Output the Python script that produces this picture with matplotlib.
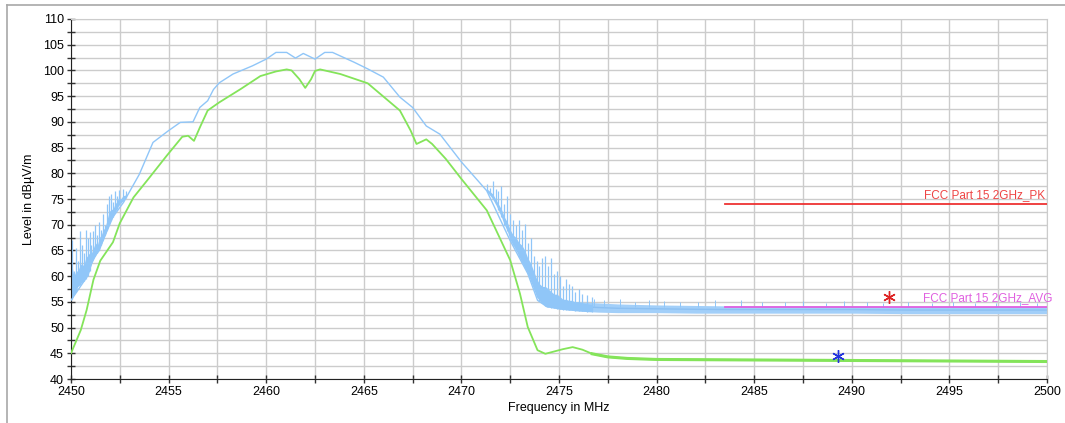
import numpy as np
import matplotlib.pyplot as plt
from matplotlib.lines import Line2D

plt.rcParams['font.family'] = ['Liberation Sans', 'DejaVu Sans']

# Peak trace (lower edge of the blue trace)
pk_f = [2450.0, 2450.7, 2451.1, 2451.6, 2452.15, 2452.7, 2453.5, 2454.2, 2455.0, 2455.6,
        2456.25, 2456.6, 2457.0, 2457.3, 2457.6, 2458.3, 2459.3, 2460.0, 2460.5, 2461.05,
        2461.5, 2461.9, 2462.5, 2463.0, 2463.4, 2464.5, 2465.2, 2466.0, 2466.85, 2467.5,
        2468.2, 2468.9, 2470.0, 2471.3, 2472.5, 2473.4, 2473.9, 2474.4]
pk_v = [55.3, 59.2, 62.8, 66.6, 71.5, 74.4, 79.8, 86.0, 88.3, 89.9,
        90.0, 92.8, 94.1, 96.3, 97.6, 99.3, 100.9, 102.2, 103.5, 103.5,
        102.4, 103.3, 102.2, 103.5, 103.5, 101.6, 100.3, 98.7, 94.8, 92.8,
        89.2, 87.6, 82.2, 76.6, 66.9, 60.5, 55.3, 54.0]

# Peak trace spikes at the band edges (x, bottom, top)
sp_f = [2450.05, 2450.15, 2450.25, 2450.35, 2450.45, 2450.55, 2450.65, 2450.75, 2450.85, 2450.95,
        2451.05, 2451.15, 2451.25, 2451.35, 2451.45, 2451.55, 2451.65, 2451.75, 2451.85, 2451.95,
        2452.05, 2452.15, 2452.25, 2452.35, 2452.45, 2452.55, 2452.65, 2452.8,
        2471.3, 2471.45, 2471.6, 2471.75, 2471.9, 2472.05, 2472.2, 2472.35, 2472.5, 2472.65,
        2472.8, 2472.95, 2473.1, 2473.25, 2473.4, 2473.55, 2473.7, 2473.85, 2474.0, 2474.15,
        2474.3, 2474.45, 2474.6, 2474.75, 2474.9, 2475.05, 2475.2, 2475.35, 2475.5, 2475.65,
        2475.8, 2476.0, 2476.2, 2476.45, 2476.7]
sp_lo = [55.5, 56.5, 57.0, 58.0, 58.3, 58.8, 59.0, 59.5, 60.0, 61.0,
         62.5, 63.5, 64.0, 64.5, 65.0, 66.0, 67.0, 68.0, 69.0, 70.0,
         71.0, 71.5, 72.5, 73.0, 73.8, 74.3, 74.6, 75.2,
         76.4, 75.8, 75.0, 74.0, 72.8, 71.5, 70.0, 68.8, 67.0, 66.0,
         65.0, 63.8, 62.6, 61.6, 60.5, 59.0, 57.5, 56.0, 55.2, 54.7,
         54.2, 54.0, 53.9, 53.8, 53.7, 53.6, 53.5, 53.5, 53.4, 53.4,
         53.3, 53.3, 53.2, 53.1, 53.1]
sp_hi = [67.0, 61.0, 65.5, 63.0, 68.8, 66.0, 64.5, 69.0, 67.5, 68.5,
         66.0, 68.8, 70.0, 68.0, 70.5, 69.0, 72.0, 70.0, 74.0, 75.5,
         76.0, 74.5, 76.5, 75.5, 76.8, 75.0, 77.0, 76.5,
         78.0, 77.2, 78.5, 77.0, 76.5, 77.5, 74.0, 75.5, 72.0, 71.0,
         70.0, 71.0, 69.0, 70.2, 66.5, 67.5, 64.0, 63.0, 62.0, 63.5,
         64.0, 62.0, 63.5, 60.5, 61.0, 60.0, 58.0, 59.5, 58.5, 58.0,
         57.0, 57.5, 56.5, 56.3, 56.0]
# where the dense part of the spikes reaches
sp_mid = [62.0, 60.0, 61.0, 61.0, 62.0, 62.5, 62.0, 63.5, 64.0, 64.5,
          64.5, 65.5, 66.5, 66.0, 67.5, 68.0, 69.0, 69.5, 71.0, 72.5,
          73.0, 73.0, 74.0, 74.5, 75.3, 75.0, 75.6, 75.8,
          77.0, 76.5, 76.0, 75.0, 74.0, 73.0, 71.5, 70.5, 69.0, 68.0,
          67.5, 66.5, 66.0, 65.0, 63.5, 62.5, 61.0, 59.5, 58.5, 58.0,
          58.0, 57.5, 57.0, 56.5, 56.5, 56.0, 55.5, 55.5, 55.3, 55.3,
          55.0, 55.0, 54.8, 54.6, 54.5]

# Peak noise floor band
fl_f = [2474.4, 2475.0, 2476.0, 2477.0, 2478.0, 2480.0, 2482.0, 2484.0, 2487.0, 2490.0, 2493.0, 2496.0, 2500.0]
fl_lo = [54.0, 53.6, 53.2, 53.0, 52.9, 52.9, 52.8, 52.8, 52.8, 52.8, 52.7, 52.7, 52.7]
fl_hi = [55.8, 55.4, 55.0, 54.8, 54.6, 54.4, 54.3, 54.2, 54.2, 54.2, 54.1, 54.1, 54.1]
fl_sp_f = [2476.8, 2477.3, 2478.1, 2478.9, 2479.6, 2480.4, 2481.2, 2482.1, 2483.0, 2484.3,
           2485.4, 2486.6, 2487.5, 2488.7, 2489.6, 2490.8, 2491.6, 2492.9, 2494.1, 2495.2,
           2496.3, 2497.4, 2498.6, 2499.5]
fl_sp_hi = [55.6, 55.3, 55.5, 55.0, 55.3, 55.1, 54.9, 55.0, 55.4, 55.3,
            54.9, 55.0, 55.1, 54.8, 55.2, 54.9, 54.8, 55.0, 54.7, 54.9,
            54.8, 54.7, 54.9, 54.7]

# Average trace
av_f = [2450.0, 2450.5, 2450.8, 2451.15, 2451.5, 2452.15, 2452.5, 2453.2, 2453.9, 2454.9,
        2455.7, 2456.0, 2456.3, 2456.6, 2457.0, 2457.6, 2458.7, 2459.7, 2460.5, 2461.05,
        2461.3, 2461.7, 2462.0, 2462.3, 2462.5, 2462.76, 2463.8, 2465.2, 2466.85, 2467.4,
        2467.7, 2468.2, 2468.5, 2469.2, 2470.0, 2471.3, 2472.5, 2473.0, 2473.4, 2473.9,
        2474.3, 2474.7, 2475.2, 2475.7, 2476.2, 2476.7, 2477.5, 2478.5, 2480.0, 2485.0,
        2490.0, 2495.0, 2500.0]
av_v = [45.0, 49.5, 53.4, 59.3, 63.0, 66.6, 70.3, 75.3, 78.6, 83.4,
        87.1, 87.3, 86.3, 88.9, 92.2, 93.8, 96.4, 98.9, 99.8, 100.2,
        100.0, 98.3, 96.6, 98.3, 99.9, 100.2, 99.3, 97.5, 92.2, 88.3,
        85.7, 86.6, 85.7, 82.8, 78.9, 72.8, 63.1, 56.6, 50.1, 45.6,
        44.9, 45.3, 45.8, 46.2, 45.7, 44.9, 44.3, 44.0, 43.8, 43.7,
        43.6, 43.5, 43.4]

# Limits
lim_f = [2483.5, 2500.0]
lim_pk = [74.0, 74.0]
lim_av = [54.0, 54.0]

# Markers
mk_pk = (2491.9, 56.0)
mk_av = (2489.3, 44.4)

fig = plt.figure(figsize=(10.65, 4.23), dpi=100)
ax = fig.add_axes([71/1065, 1-379/423, (1047-71)/1065, (379-19)/423])

blue = '#90c6f8'
green = '#84e45a'

ax.fill_between(fl_f, fl_lo, fl_hi, color='#a2cff9', lw=0, zorder=2)
ax.plot(fl_f, [(a+b)/2 for a, b in zip(fl_lo, fl_hi)], color='#8cc0f2', lw=1.0, zorder=2)
ax.vlines(fl_sp_f, 54.0, fl_sp_hi, color=blue, lw=0.7, zorder=2)
ax.fill_between(sp_f[:28], sp_lo[:28], sp_mid[:28], color=blue, lw=0, zorder=2)
ax.fill_between(sp_f[28:], sp_lo[28:], sp_mid[28:], color=blue, lw=0, zorder=2)
ax.vlines(sp_f, sp_lo, sp_hi, color=blue, lw=0.9, zorder=2)
ax.plot(pk_f, pk_v, color=blue, lw=1.0, zorder=3)

ax.plot(av_f, av_v, color=green, lw=1.3, zorder=4)
ax.plot(av_f[45:], av_v[45:], color=green, lw=2.2, zorder=4)

ax.plot(lim_f, lim_pk, color='#ee3333', lw=1.3, zorder=5)
ax.plot(lim_f, lim_av, color='#e060e0', lw=1.3, zorder=5)
ax.text(2499.9, 75.7, 'FCC Part 15 2GHz_PK', color='#ee4444', fontsize=8.5, ha='right', va='center', zorder=6)
ax.text(2500.3, 55.7, 'FCC Part 15 2GHz_AVG', color='#e060e0', fontsize=8.5, ha='right', va='center', zorder=6, clip_on=False)

ax.plot(*mk_pk, marker=(6, 2, 0), color='#dd2222', ms=9, mew=1.0, zorder=7)
ax.plot(*mk_av, marker=(6, 2, 0), color='#2233dd', ms=9, mew=1.0, zorder=7)

ax.set_xlim(2450, 2500)
ax.set_ylim(40, 110)
ax.set_xticks(np.arange(2450, 2501, 5))
ax.set_xticks(np.arange(2452.5, 2500, 5), minor=True)
ax.set_yticks(np.arange(40, 111, 5))
ax.set_yticks(np.arange(42.5, 110, 5), minor=True)
ax.grid(True, which='both', color='#cccccc', lw=1.0, zorder=0)
ax.set_axisbelow(True)
ax.tick_params(which='both', direction='inout', length=6, width=1, color='#333333',
               labelsize=9, pad=2)
for s in ['top', 'right']:
    ax.spines[s].set_color('#cccccc')
for s in ['left', 'bottom']:
    ax.spines[s].set_color('#222222')
ax.set_xlabel('Frequency in MHz', fontsize=9, labelpad=3)
ax.set_ylabel('Level in dBµV/m', fontsize=9, labelpad=6)

fig.add_artist(Line2D([7/1065, 1.0], [1-5/423, 1-5/423], color='#a8a8a8', lw=1.2))
fig.add_artist(Line2D([7/1065, 7/1065], [0.0, 1-5/423], color='#a8a8a8', lw=1.2))

fig.savefig('out.png', dpi=100)
